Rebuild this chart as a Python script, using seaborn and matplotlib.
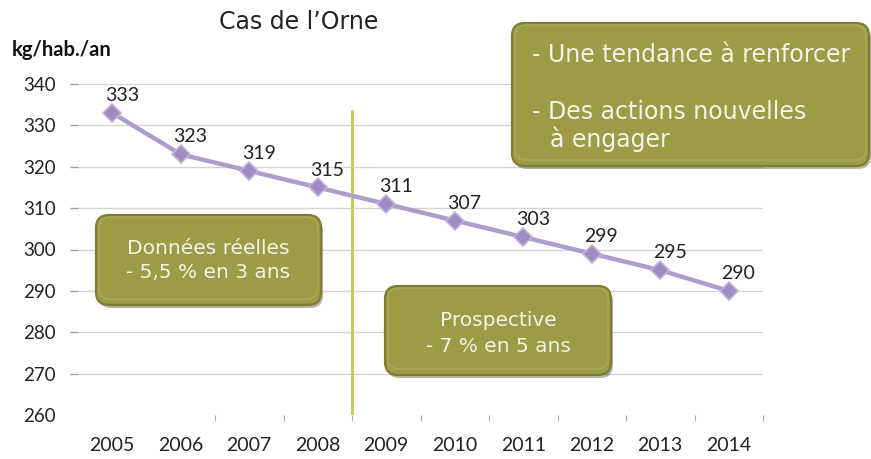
import matplotlib
matplotlib.use("Agg")
import matplotlib.pyplot as plt
import seaborn as sns
import pandas as pd
from matplotlib.patches import FancyBboxPatch

years = ["2005", "2006", "2007", "2008", "2009", "2010", "2011", "2012", "2013", "2014"]
values = [333, 323, 319, 315, 311, 307, 303, 299, 295, 290]
y_ticks = [260, 270, 280, 290, 300, 310, 320, 330, 340]
divider_pos = 3.5
divider_top = 333.7

title = "Cas de l\u2019Orne"
ylabel = "kg/hab./an"
box_real = ["Donn\u00e9es r\u00e9elles", "- 5,5 % en 3 ans"]
box_prosp = ["Prospective", "- 7 % en 5 ans"]
box_msg = ["- Une tendance \u00e0 renforcer", "- Des actions nouvelles", "\u00e0 engager"]

sns.set_theme(style="white")
plt.rcParams["font.family"] = ["DejaVu Sans"]

W, H = 871, 459
fig = plt.figure(figsize=(W / 100, H / 100), dpi=100)
ax = fig.add_axes([78 / W, 1 - 415 / H, (763 - 78) / W, (415 - 84) / H])

df = pd.DataFrame({"idx": range(len(years)), "val": values})
sns.lineplot(data=df, x="idx", y="val", ax=ax, color="#ac9ecc", linewidth=3.2,
             marker="D", markersize=9, markerfacecolor="#9e8cc2",
             markeredgecolor="#c0b4da", markeredgewidth=1.2, zorder=3)

for i, v in enumerate(values):
    ax.annotate(str(v), (i, v), xytext=(7, 12.5), textcoords="offset points",
                ha="center", va="center", fontsize=14, family="Lato", color="#222222")

ax.vlines(divider_pos, y_ticks[0], divider_top, color="#c9c85c", linewidth=2.2, zorder=2)

ax.set_xlim(-0.5, len(years) - 0.5)
ax.set_ylim(y_ticks[0], y_ticks[-1])
ax.set_yticks(y_ticks)
ax.set_yticklabels([str(t) for t in y_ticks], family="Lato", fontsize=13.5, color="#222222")
ax.set_xticks(range(len(years)))
ax.set_xticklabels(years, family="Lato", fontsize=14, color="#222222")
ax.set_xticks([i + 0.5 for i in range(1, len(years))], minor=True)
ax.tick_params(axis="x", which="major", length=0, pad=16)
ax.tick_params(axis="x", which="minor", length=4, width=0.8, color="#aaaaaa", direction="out", bottom=True)
ax.tick_params(axis="y", which="major", length=6, width=1, color="#a0a0a0", direction="out", pad=10, left=True)
ax.grid(axis="y", color="#d4d4d4", linewidth=1)
ax.grid(axis="x", visible=False)
for s in ax.spines.values():
    s.set_visible(False)
ax.set_xlabel("")
ax.set_ylabel("")
fig.canvas.draw()
ax.yaxis.get_gridlines()[0].set_visible(False)
ax.yaxis.get_major_ticks()[0].tick1line.set_visible(False)

# overlay in pixel coordinates
ov = fig.add_axes([0, 0, 1, 1])
ov.set_xlim(0, W)
ov.set_ylim(H, 0)
ov.axis("off")
ov.patch.set_alpha(0)

fig.text(299 / W, 1 - 22 / H, title, ha="center", va="center", fontsize=17, color="#222222")
fig.text(12 / W, 1 - 50 / H, ylabel, ha="left", va="center", fontsize=14.5,
         family="Lato", fontweight="bold", color="#111111")


def rbox(x0, y0, x1, y1):
    w, h = x1 - x0, y1 - y0
    ov.add_patch(FancyBboxPatch((x0 + 2, y0 + 3), w, h,
                                boxstyle="round,pad=0,rounding_size=13",
                                fc="#5e5c28", ec="none", alpha=0.45, zorder=5))
    ov.add_patch(FancyBboxPatch((x0, y0), w, h,
                                boxstyle="round,pad=0,rounding_size=13",
                                fc="#9e9b47", ec="#7f7c35", lw=1.6, zorder=6))
    ov.add_patch(FancyBboxPatch((x0 + 3, y0 + 2), w - 6, h - 8,
                                boxstyle="round,pad=0,rounding_size=11",
                                fc="none", ec="#aca85c", lw=1.0, zorder=6.5))


rbox(96, 215, 321, 305)
rbox(385, 286, 611, 375)
rbox(512, 23, 869, 166)

tc = "#f3f3e6"
ov.text(208, 249, box_real[0], ha="center", va="center", fontsize=14.5, color=tc, zorder=7)
ov.text(208, 273, box_real[1], ha="center", va="center", fontsize=14.5, color=tc, zorder=7)
ov.text(498, 321, box_prosp[0], ha="center", va="center", fontsize=14.5, color=tc, zorder=7)
ov.text(498, 346, box_prosp[1], ha="center", va="center", fontsize=14.5, color=tc, zorder=7)
ov.text(532, 55, box_msg[0], ha="left", va="center", fontsize=17, color=tc, zorder=7)
ov.text(532, 112, box_msg[1], ha="left", va="center", fontsize=17, color=tc, zorder=7)
ov.text(550, 139, box_msg[2], ha="left", va="center", fontsize=17, color=tc, zorder=7)

fig.savefig("out.png", dpi=100)
